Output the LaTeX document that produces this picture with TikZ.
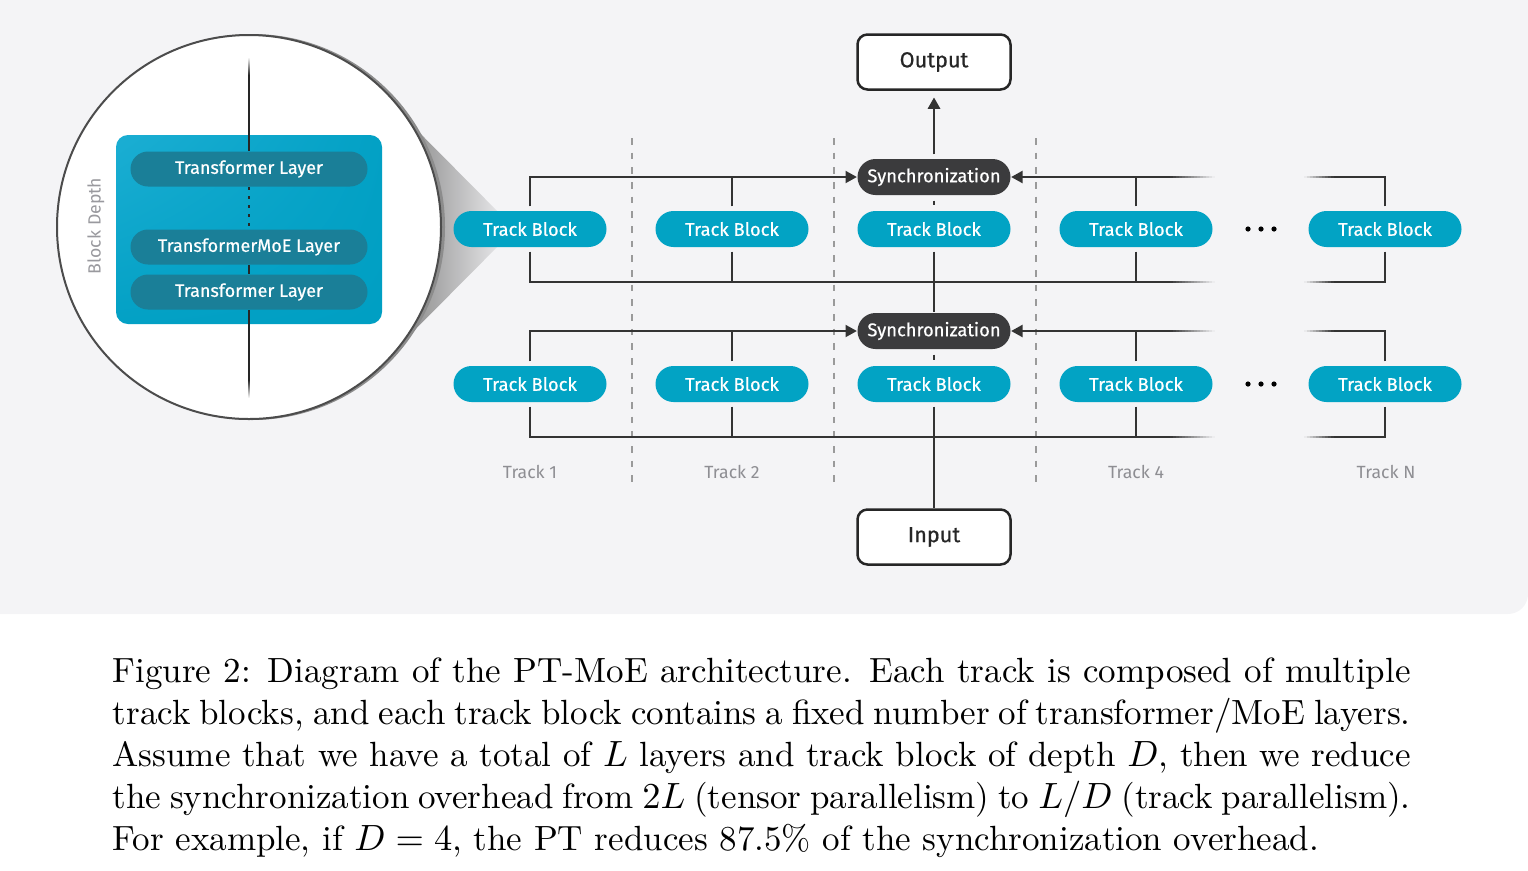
\documentclass[tikz,border=0pt]{standalone}
\usepackage{fontspec}
\usetikzlibrary{arrows.meta, shadings}
\newfontfamily\diagfont{Fira Sans}
\newfontfamily\diagmed[FakeBold=0.6]{Fira Sans}
\definecolor{bgcol}{HTML}{F4F4F6}
\definecolor{trackcol}{HTML}{02A3C4}
\definecolor{synccol}{HTML}{3B3B3D}
\definecolor{boxlight}{HTML}{1BAED3}
\definecolor{boxdark}{HTML}{009FC3}
\definecolor{layercol}{HTML}{1A7F98}
\definecolor{linecol}{HTML}{333333}
\definecolor{sepcol}{HTML}{9A9A9A}
\definecolor{labelcol}{HTML}{8E8E93}

\tikzset{
  trackblock/.style={fill=trackcol, rounded corners=5.4pt, minimum width=45.9pt,
    minimum height=10.8pt, inner sep=0pt, text=white,
    font=\diagmed\fontsize{5.5}{6}\selectfont},
  syncbox/.style={trackblock, fill=synccol},
  iobox/.style={draw=black!85, line width=0.75pt, fill=white, rounded corners=3pt,
    minimum width=45.9pt, minimum height=16.5pt, inner sep=0pt, text=black!85,
    font=\diagmed\fontsize{6.5}{7}\selectfont},
  layerbox/.style={fill=layercol, rounded corners=5.25pt, minimum width=71.1pt,
    minimum height=10.5pt, inner sep=0pt, text=white,
    font=\diagmed\fontsize{5.4}{6}\selectfont},
  wire/.style={draw=linecol, line width=0.6pt},
  gap/.style={shorten <=1.2pt},
  arr/.style={-{Triangle[length=3.4pt,width=3.6pt]}},
  sep/.style={draw=sepcol, line width=0.4pt, dash pattern=on 2pt off 2.4pt},
  tracklabel/.style={text=labelcol, inner sep=0pt, font=\diagfont\fontsize{5.3}{6}\selectfont},
}

\begin{document}
\begin{tikzpicture}[x=0.3pt, y=-0.3pt]
  \useasboundingbox (0,0) rectangle (1528,870);
  \fill[bgcol, rounded corners=6pt] (-30,-30) rectangle (1528,614);

  % zoom cone and circle
  \shade[left color=black!55, right color=bgcol] (395,108) -- (515,229) -- (380,365) -- cycle;
  \fill[black!45] (252,227) circle[radius=193];
  \draw[black!70, line width=0.6pt, fill=white] (249,227) circle[radius=192];
  \shade[upper left=boxlight, lower right=boxdark, lower left=boxdark!90!boxlight,
    upper right=boxdark!90!boxlight, rounded corners=3.6pt] (116,135) rectangle (382,324);
  \node[layerbox] (lay1) at (249,169) {Transformer Layer};
  \node[layerbox] (lay2) at (249,247) {TransformerMoE Layer};
  \node[layerbox] (lay3) at (249,292) {Transformer Layer};
  \coordinate (ltop) at (249,75);
  \coordinate (lbot) at (249,380);
  \shade[top color=white, bottom color=black!85] (248.1,57) rectangle (249.9,75);
  \shade[top color=black!85, bottom color=white] (248.1,380) rectangle (249.9,398);
  \draw[black!85, line width=0.55pt] (ltop) -- (lay1.north);
  \draw[black!85, line width=0.7pt, dotted] (lay1.south) -- (lay2.north);
  \draw[black!85, line width=0.55pt] (lay2.south) -- (lay3.north);
  \draw[black!85, line width=0.55pt] (lay3.south) -- (lbot);
  \node[rotate=90, text=labelcol!90!white, inner sep=0pt,
    font=\diagfont\fontsize{5.3}{6}\selectfont] (depth) at (96,226) {Block Depth};

  % track separators
  \draw[sep] (632,138) -- (632,486);
  \draw[sep] (834,138) -- (834,486);
  \draw[sep] (1036,138) -- (1036,486);

  % upper row
  \node[trackblock] (t11) at (530,229) {Track Block};
  \node[trackblock] (t12) at (732,229) {Track Block};
  \node[trackblock] (t13) at (934,229) {Track Block};
  \node[trackblock] (t14) at (1136,229) {Track Block};
  \node[trackblock] (t1n) at (1385,229) {Track Block};
  \node[syncbox] (s1) at (934,177) {Synchronization};

  % lower row
  \node[trackblock] (t21) at (530,384) {Track Block};
  \node[trackblock] (t22) at (732,384) {Track Block};
  \node[trackblock] (t23) at (934,384) {Track Block};
  \node[trackblock] (t24) at (1136,384) {Track Block};
  \node[trackblock] (t2n) at (1385,384) {Track Block};
  \node[syncbox] (s2) at (934,331) {Synchronization};

  \node[iobox] (out) at (934,62) {Output};
  \node[iobox] (in) at (934,537) {Input};

  \fill (1248,229) circle[radius=2.6] (1261,229) circle[radius=2.6] (1274,229) circle[radius=2.6];
  \fill (1248,384) circle[radius=2.6] (1261,384) circle[radius=2.6] (1274,384) circle[radius=2.6];

  % fade ends of the buses
  \coordinate (f1) at (1170,177);
  \coordinate (g1) at (1334,177);
  \coordinate (b1) at (1170,282);
  \coordinate (c1) at (1334,282);
  \coordinate (f2) at (1170,331);
  \coordinate (g2) at (1334,331);
  \coordinate (b2) at (1170,437);
  \coordinate (c2) at (1334,437);
  \foreach \y in {177,282,331,437} {
    \foreach \i in {0,...,14} {
      \pgfmathsetmacro{\op}{1-(\i+0.5)/15}
      \draw[wire, draw opacity=\op] (1170+3*\i,\y) -- ++(3,0);
    }
    \foreach \i in {0,...,9} {
      \pgfmathsetmacro{\op}{(\i+0.5)/10}
      \draw[wire, draw opacity=\op] (1304+3*\i,\y) -- ++(3,0);
    }
  }

  % upper row wiring
  \draw[wire, gap, arr] (t11.north) |- (s1.west);
  \draw[wire, gap] (t12.north) -- (t12.north |- s1.west);
  \draw[wire, arr] (f1) -- (s1.east);
  \draw[wire, gap] (t14.north) -- (t14.north |- s1.east);
  \draw[wire, gap] (t1n.north) |- (g1);
  \draw[wire, gap] (t11.south) |- (b1);
  \draw[wire, gap] (t12.south) -- (t12.south |- b1);
  \draw[wire, gap] (t14.south) -- (t14.south |- b1);
  \draw[wire, gap] (t1n.south) |- (c1);

  % lower row wiring
  \draw[wire, gap, arr] (t21.north) |- (s2.west);
  \draw[wire, gap] (t22.north) -- (t22.north |- s2.west);
  \draw[wire, arr] (f2) -- (s2.east);
  \draw[wire, gap] (t24.north) -- (t24.north |- s2.east);
  \draw[wire, gap] (t2n.north) |- (g2);
  \draw[wire, gap] (t21.south) |- (b2);
  \draw[wire, gap] (t22.south) -- (t22.south |- b2);
  \draw[wire, gap] (t24.south) -- (t24.south |- b2);
  \draw[wire, gap] (t2n.south) |- (c2);

  % centre track
  \draw[wire, line width=0.8pt, gap, arr, shorten >=2pt] (s1.north) -- (out.south);
  \draw[wire, line width=0.8pt, shorten <=1.5pt, shorten >=1.5pt] (s1.south) -- (t13.north);
  \draw[wire, line width=0.8pt, gap] (t13.south) -- (s2.north);
  \draw[wire, line width=0.8pt, shorten <=1.5pt, shorten >=1.5pt] (s2.south) -- (t23.north);
  \draw[wire, line width=0.8pt, gap] (t23.south) -- (in.north);

  \node[tracklabel] (l1) at (530,472) {Track 1};
  \node[tracklabel] (l2) at (732,472) {Track 2};
  \node[tracklabel] (l4) at (1136,472) {Track 4};
  \node[tracklabel] (ln) at (1386,472) {Track N};

  \node[anchor=north west, inner sep=0pt, align=left,
    font=\fontsize{10.5}{12.6}\selectfont] (caption) at (112,657) {%
    \makebox[389.4pt][s]{Figure 2: Diagram of the PT-MoE architecture. Each track is composed of multiple}\\
    \makebox[389.4pt][s]{track blocks, and each track block contains a fixed number of transformer/MoE layers.}\\
    \makebox[389.4pt][s]{Assume that we have a total of $L$ layers and track block of depth $D$, then we reduce}\\
    \makebox[389.4pt][s]{the synchronization overhead from $2L$ (tensor parallelism) to $L/D$ (track parallelism).}\\
    For example, if $D=4$, the PT reduces 87.5\% of the synchronization overhead.};
\end{tikzpicture}
\end{document}
